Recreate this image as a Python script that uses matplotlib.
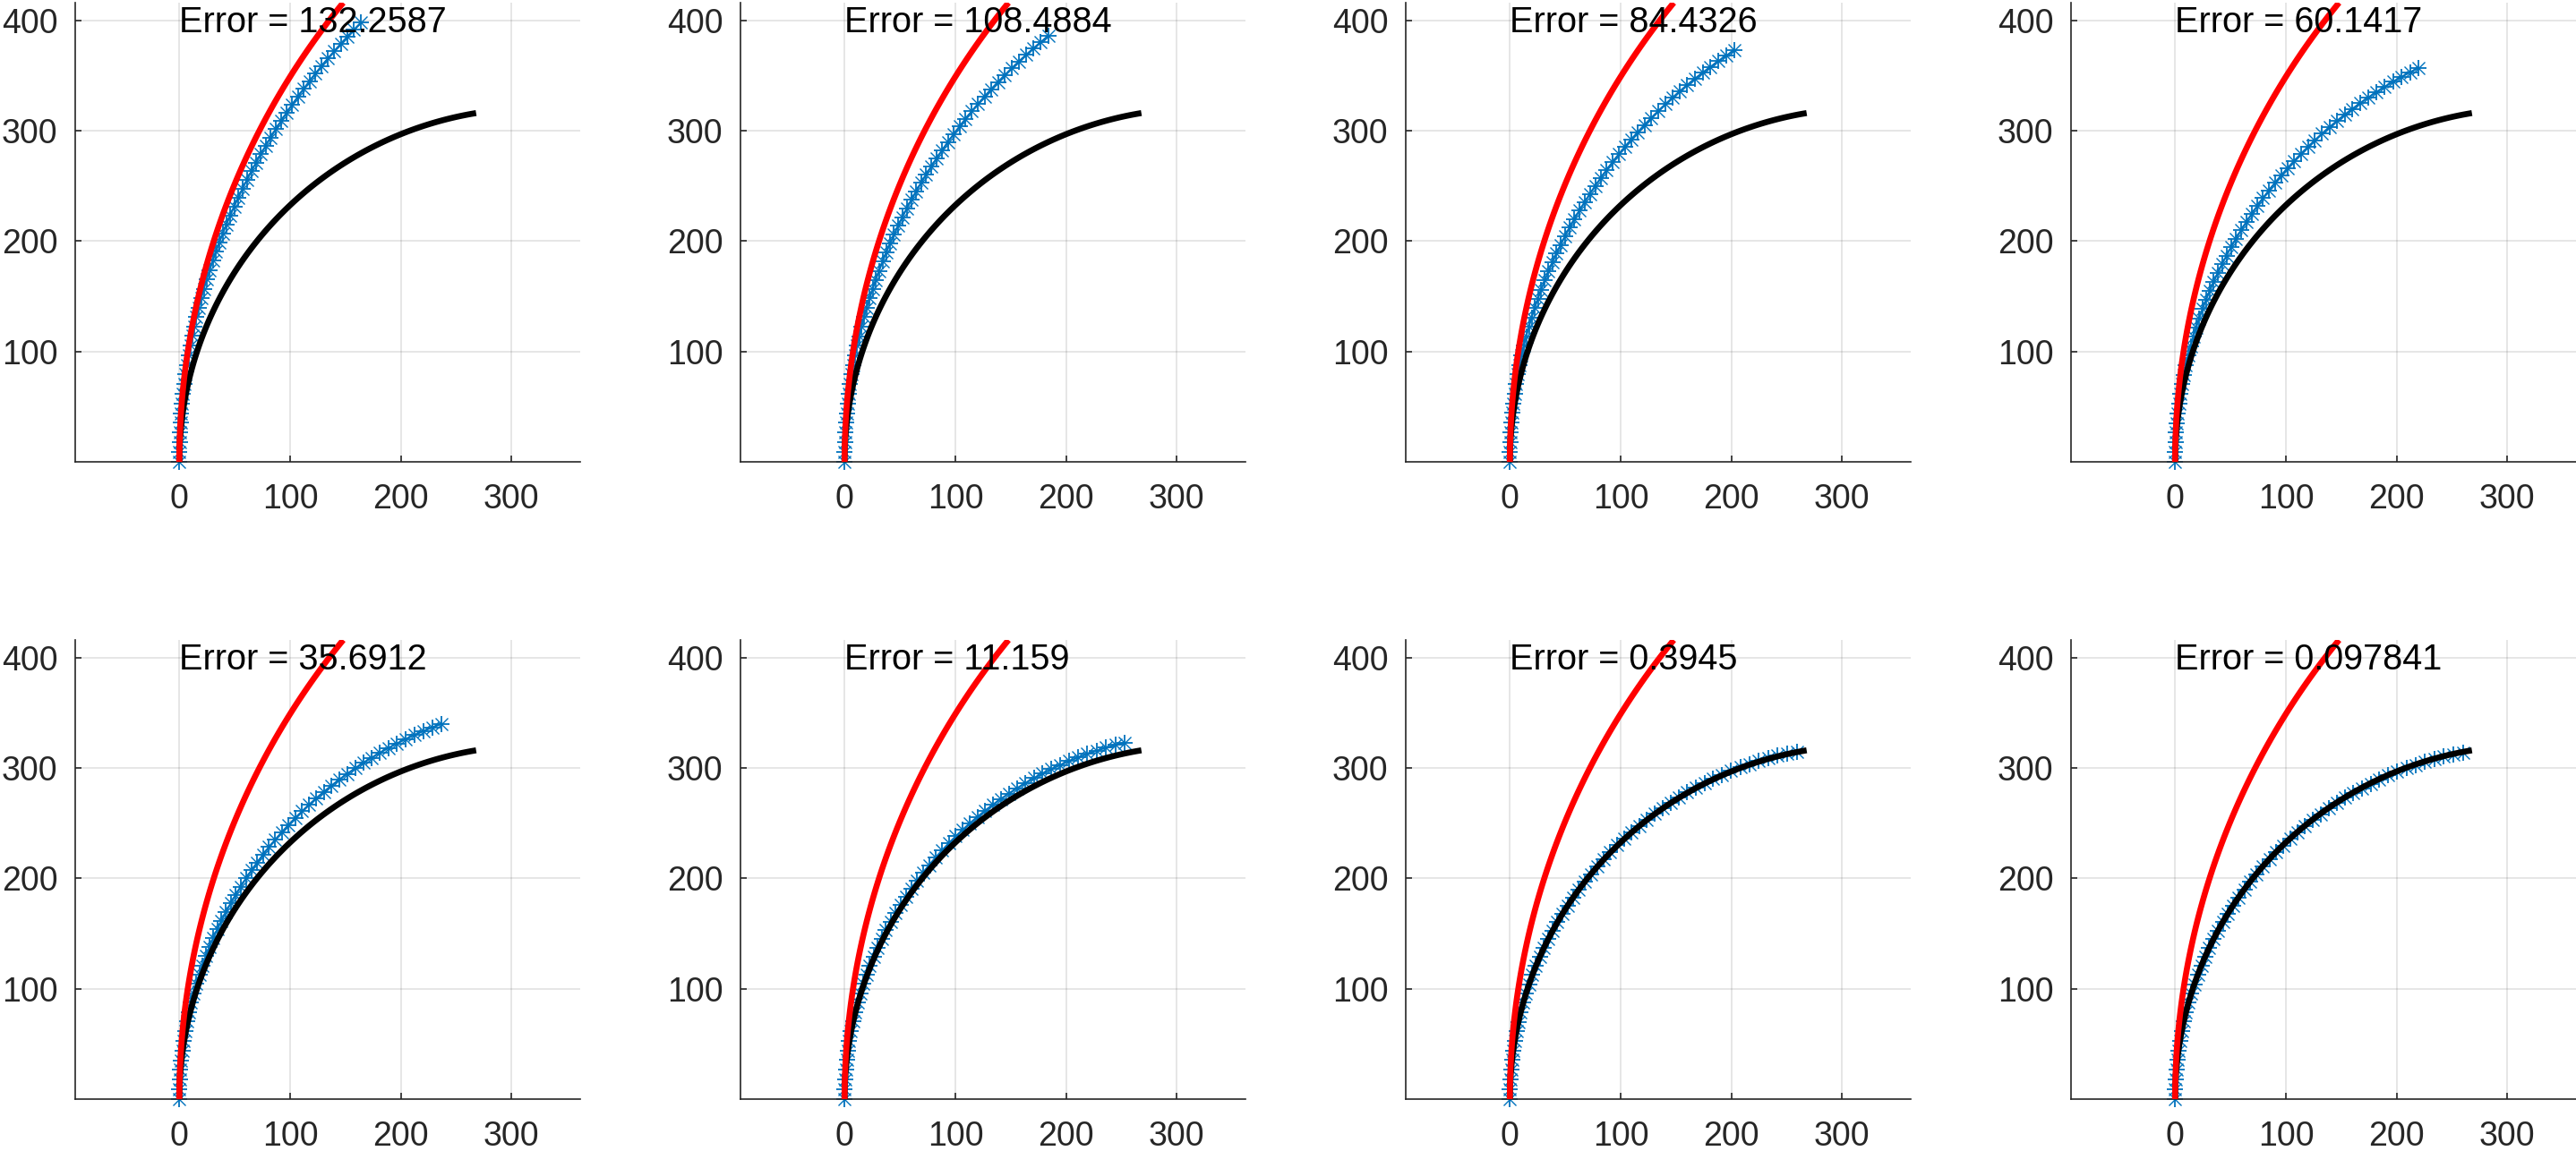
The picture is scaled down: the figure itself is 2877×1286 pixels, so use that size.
import numpy as np
import matplotlib
matplotlib.use("Agg")
import matplotlib.pyplot as plt

# ---- values ----
error_labels = ["132.2587", "108.4884", "84.4326", "60.1417",
                "35.6912", "11.159", "0.3945", "0.097841"]
# end point of the blue (iterate) arc in each panel
blue_end_x = [164, 184, 203, 220, 237, 253, 259, 260]
blue_end_y = [398, 386, 373, 357, 340, 323, 315, 314]
# end points of the black (target) and red (initial) arcs
target_end = [268, 316]
initial_end = [148, 416]
n_blue_points = 51
x_ticks = [0, 100, 200, 300]
y_ticks = [100, 200, 300, 400]


def arc_points(ex, ey, n):
    """circular arc leaving (0,0) vertically and ending at (ex, ey)"""
    R = (ex ** 2 + ey ** 2) / (2.0 * ex)
    phi_end = np.arctan2(ey, R - ex)
    phi = np.linspace(0.0, phi_end, n)
    return R * (1 - np.cos(phi)), R * np.sin(phi)


plt.rcParams["font.family"] = ["Liberation Sans", "DejaVu Sans"]

W, H = 2877, 1286
fig = plt.figure(figsize=(W / 100, H / 100), dpi=100)
fig.patch.set_facecolor("white")

AX_COL = "#262626"
BLUE = "#0072BD"

col_left = [84, 827, 1570, 2313]
row_top = [3, 715]
ax_w, ax_h = 564, 513

bx_t, by_t = arc_points(target_end[0], target_end[1], 120)
bx_i, by_i = arc_points(initial_end[0], initial_end[1], 120)

for k in range(8):
    r, c = divmod(k, 4)
    left = col_left[c] / W
    bottom = (H - row_top[r] - ax_h) / H
    ax = fig.add_axes([left, bottom, ax_w / W, ax_h / H])

    bx, by = arc_points(blue_end_x[k], blue_end_y[k], n_blue_points)
    ax.plot(bx, by, color=BLUE, lw=1.5, zorder=2)
    ax.plot(bx, by, ls="none", marker="+", ms=13, mew=1.3, color=BLUE,
            zorder=2, clip_on=False)
    ax.plot(bx, by, ls="none", marker="x", ms=9.5, mew=1.0, color=BLUE,
            zorder=2, clip_on=False)
    ax.plot(bx_t, by_t, color="black", lw=4.8, solid_capstyle="butt", zorder=3)
    ax.plot(bx_i, by_i, color="red", lw=4.8, solid_capstyle="butt", zorder=4)

    ax.text(0, 389, "Error = " + error_labels[k], fontsize=28.5, color="black",
            ha="left", va="baseline", zorder=5)

    ax.set_xlim(-94, 362)
    ax.set_ylim(0, 416)
    ax.set_xticks(x_ticks)
    ax.set_yticks(y_ticks)
    ax.grid(True, color=AX_COL, alpha=0.15, lw=1.1)
    ax.set_axisbelow(True)
    for s in ["top", "right"]:
        ax.spines[s].set_visible(False)
    for s in ["left", "bottom"]:
        ax.spines[s].set_color(AX_COL)
        ax.spines[s].set_linewidth(1.2)
    ax.tick_params(axis="both", direction="in", length=5, width=1.2,
                   color=AX_COL, labelcolor=AX_COL, labelsize=27)
    ax.tick_params(axis="x", pad=17)
    ax.tick_params(axis="y", pad=14)
    ax.set_facecolor("white")

fig.savefig("out.png", dpi=100)
